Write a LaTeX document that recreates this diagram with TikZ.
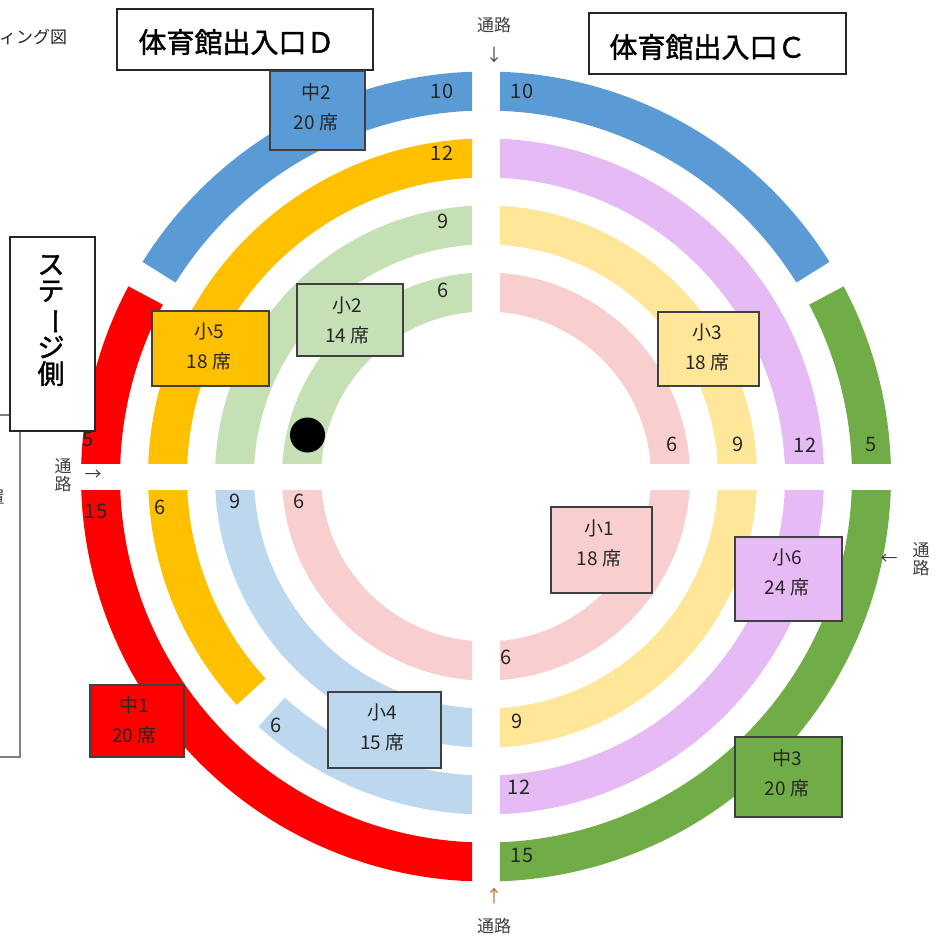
\documentclass[tikz,border=0pt]{standalone}
\usepackage{fontspec}
\setmainfont{Noto Sans CJK JP}
\newfontfamily\heavyfont[FakeBold=1.5]{Noto Sans CJK JP}
\definecolor{cblue}{HTML}{5B9BD5}
\definecolor{cred}{HTML}{FF0000}
\definecolor{cgreen}{HTML}{70AD47}
\definecolor{cgold}{HTML}{FFC000}
\definecolor{clgreen}{HTML}{C5E0B4}
\definecolor{clblue}{HTML}{BDD7EE}
\definecolor{cpink}{HTML}{F9CECE}
\definecolor{clyellow}{HTML}{FFE699}
\definecolor{cpurple}{HTML}{E6BAF5}
\definecolor{ctext}{HTML}{262626}
\definecolor{cgray}{HTML}{404040}
\definecolor{cbrown}{HTML}{B8651E}
\newcommand\ringseg[5]{% color, rin, rout, a1, a2
  \fill[#1] (#4:#3pt) arc[start angle=#4,end angle=#5,radius=#3pt]
    -- (#5:#2pt) arc[start angle=#5,end angle=#4,radius=#2pt] -- cycle;}
\tikzset{
  num/.style={font=\fontsize{20}{20}\selectfont, text=ctext, inner sep=0},
  seatbox/.style={draw=cgray, line width=1.2pt, inner sep=0},
  seattxt/.style={font=\fontsize{19}{30}\selectfont, align=center, text=ctext, inner sep=0},
  titlebox/.style={draw=ctext, line width=1.8pt, fill=white, inner sep=0},
  titletxt/.style={font=\heavyfont\fontsize{28}{28}\selectfont, text=black, inner sep=0},
  pathtxt/.style={font=\fontsize{17}{18}\selectfont, text=cgray, inner sep=0, align=center},
  arrowtxt/.style={font=\fontsize{17}{17}\selectfont, text=cgray, inner sep=0},
}
\begin{document}
\begin{tikzpicture}[x=1pt,y=1pt]
\useasboundingbox (0,-938) rectangle (941,0);
\fill[white] (0,-938) rectangle (941,0);

% rings
\begin{scope}[shift={(486,-476.5)}]
  \begin{scope}
    \clip (-600,13.5) rectangle (-14,600);
    \ringseg{cblue}{366}{405}{85}{148}
    \ringseg{cred}{366}{405}{152}{185}
    \ringseg{cgold}{299}{338}{85}{185}
    \ringseg{clgreen}{232}{271}{85}{185}
    \ringseg{clgreen}{165}{204}{85}{185}
  \end{scope}
  \begin{scope}
    \clip (14,13.5) rectangle (600,600);
    \ringseg{cblue}{366}{405}{32}{95}
    \ringseg{cgreen}{366}{405}{-5}{28}
    \ringseg{cpurple}{299}{338}{-5}{95}
    \ringseg{clyellow}{232}{271}{-5}{95}
    \ringseg{cpink}{165}{204}{-5}{95}
  \end{scope}
  \begin{scope}
    \clip (14,-13.5) rectangle (600,-600);
    \ringseg{cgreen}{366}{405}{265}{365}
    \ringseg{cpurple}{299}{338}{265}{365}
    \ringseg{clyellow}{232}{271}{265}{365}
    \ringseg{cpink}{165}{204}{265}{365}
  \end{scope}
  \begin{scope}
    \clip (-600,-13.5) rectangle (-14,-600);
    \ringseg{cred}{366}{405}{175}{275}
    \ringseg{cgold}{299}{338}{175}{222.5}
    \ringseg{clblue}{299}{338}{227.7}{275}
    \ringseg{clblue}{232}{271}{175}{275}
    \ringseg{cpink}{165}{204}{175}{275}
  \end{scope}
\end{scope}

% cut-off box on the left
\draw[draw=gray, line width=1.5pt] (-20,-415) rectangle (20,-757);
\node[font=\fontsize{17}{17}\selectfont, text=cgray, inner sep=0] (frag) at (-4,-497) {置};

% top-left cut text
\node[font=\fontsize{17}{17}\selectfont, text=ctext, anchor=west, inner sep=0] (fig) at (-1,-37) {ィング図};

% title boxes
\node[titlebox, minimum width=256, minimum height=61] (entD) at (245,-39.5) {};
\node[titletxt] (entDt) at (236.5,-42) {体育館出入口Ｄ};
\node[titlebox, minimum width=257, minimum height=61] (entC) at (717.5,-43.5) {};
\node[titletxt] (entCt) at (707.5,-47) {体育館出入口Ｃ};

% stage box
\node[titlebox, minimum width=85, minimum height=194] (stage) at (52.5,-334) {};
\node[font=\heavyfont\fontsize{27}{26.5}\selectfont, align=center, inner sep=0] (staget) at (51,-320.5)
  {ス\\テ\\\rotatebox[origin=c]{-90}{ー}\\ジ\\側};

% seat boxes
\node[seatbox, fill=cblue, minimum width=95, minimum height=79] (b2) at (317.5,-110.5) {};
\node[seattxt] (t2) at (316,-107) {中2\\20 席};
\node[seatbox, fill=cgold, minimum width=117, minimum height=75] (b5) at (210.5,-348.5) {};
\node[seattxt] (t5) at (209,-346.5) {小5\\18 席};
\node[seatbox, fill=clgreen, minimum width=106, minimum height=72] (bs2) at (350,-320) {};
\node[seattxt] (ts2) at (347.5,-320) {小2\\14 席};
\node[seatbox, fill=clyellow, minimum width=101, minimum height=74] (bs3) at (708.5,-349) {};
\node[seattxt] (ts3) at (707.5,-347.5) {小3\\18 席};
\node[seatbox, fill=cpink, minimum width=101, minimum height=86] (bs1) at (601.5,-550) {};
\node[seattxt] (ts1) at (599,-543.5) {小1\\18 席};
\node[seatbox, fill=cpurple, minimum width=107, minimum height=84] (bs6) at (788.5,-579) {};
\node[seattxt] (ts6) at (787,-572) {小6\\24 席};
\node[seatbox, fill=cgreen, minimum width=107, minimum height=80] (bm3) at (788.5,-777) {};
\node[seattxt] (tm3) at (787,-773.5) {中3\\20 席};
\node[seatbox, fill=cred, minimum width=94, minimum height=72] (bm1) at (137,-721) {};
\node[seattxt] (tm1) at (134.5,-720) {中1\\20 席};
\node[seatbox, fill=clblue, minimum width=113, minimum height=76] (bs4) at (384.5,-730) {};
\node[seattxt] (ts4) at (382.5,-727.5) {小4\\15 席};

% ring numbers
\node[num] (n1) at (442,-91) {10};
\node[num] (n2) at (442,-153) {12};
\node[num] (n3) at (443,-221) {9};
\node[num] (n4) at (443,-290) {6};
\node[num] (n5) at (88,-439) {5};
\node[num] (n6) at (522,-91) {10};
\node[num] (n7) at (672,-444) {6};
\node[num] (n8) at (738,-444) {9};
\node[num] (n9) at (805,-445) {12};
\node[num] (n10) at (871,-444) {5};
\node[num] (n11) at (96,-511) {15};
\node[num] (n12) at (160,-507) {6};
\node[num] (n13) at (235,-501) {9};
\node[num] (n14) at (299,-501) {6};
\node[num] (n15) at (276,-725) {6};
\node[num] (n16) at (506,-657) {6};
\node[num] (n17) at (517,-721) {9};
\node[num] (n18) at (519,-787) {12};
\node[num] (n19) at (522,-855) {15};

% aisles
\node[pathtxt] (ptop) at (494,-25) {通路};
\node[arrowtxt] (atop) at (494,-55) {↓};
\node[pathtxt] (pbot) at (494,-926) {通路};
\node[arrowtxt, text=cbrown] (abot) at (494,-896) {↑};
\node[pathtxt] (pleft) at (63,-475.5) {通\\路};
\node[arrowtxt] (aleft) at (93,-475) {→};
\node[pathtxt] (pright) at (921,-559.5) {通\\路};
\node[arrowtxt] (aright) at (889,-559) {←};

% black dot
\fill[black] (307.5,-435) circle[radius=17.5pt];
\end{tikzpicture}
\end{document}
